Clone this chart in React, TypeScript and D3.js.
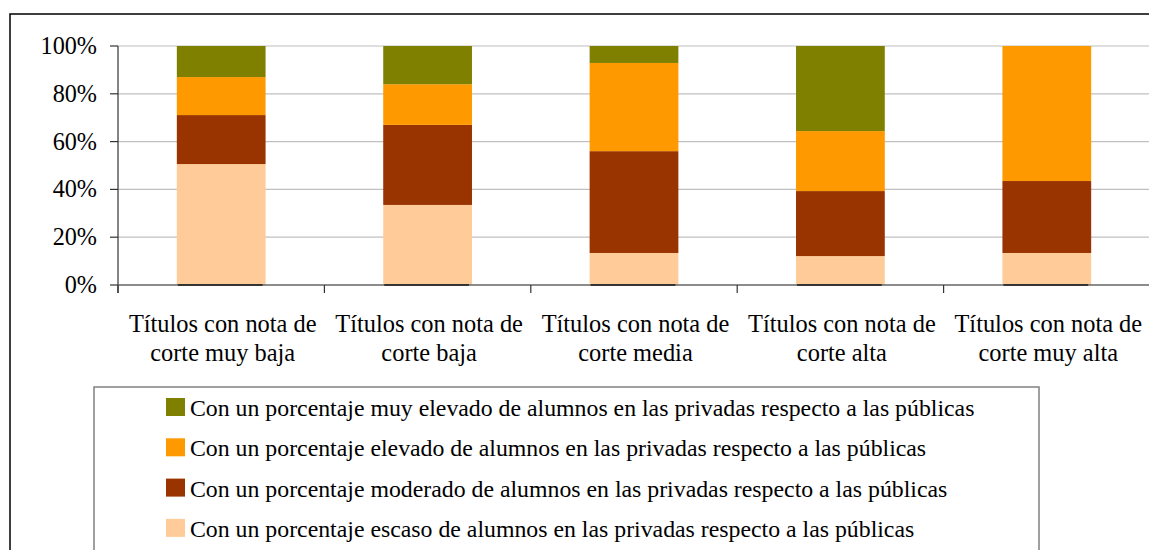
import React from "react";
import * as d3 from "d3";

const categories = [
  ["Títulos con nota de", "corte muy baja"],
  ["Títulos con nota de", "corte baja"],
  ["Títulos con nota de", "corte media"],
  ["Títulos con nota de", "corte alta"],
  ["Títulos con nota de", "corte muy alta"],
];
const escaso = [50.6, 33.5, 13.4, 12.1, 13.4];
const moderado = [20.5, 33.5, 42.6, 27.2, 30.1];
const elevado = [15.9, 17.0, 36.9, 25.1, 56.5];
const muyElevado = [13.0, 16.0, 7.1, 35.6, 0];
const seriesNames = [
  "Con un porcentaje escaso de alumnos en las privadas respecto a las públicas",
  "Con un porcentaje moderado de alumnos en las privadas respecto a las públicas",
  "Con un porcentaje elevado de alumnos en las privadas respecto a las públicas",
  "Con un porcentaje muy elevado de alumnos en las privadas respecto a las públicas",
];
const colors = ["#FFCC99", "#993300", "#FF9900", "#808000"];
const yTicks = [0, 20, 40, 60, 80, 100];

export default function App() {
  const W = 1149, H = 550;
  const left = 118, right = 1150, top = 46, bottom = 285;
  const fs = 24.4;
  const ts = { fontFamily: "Liberation Serif" };
  const x = d3.scaleBand<number>().domain(d3.range(categories.length)).range([left, right]).paddingInner(0.57).paddingOuter(0.285);
  const y = d3.scaleLinear().domain([0, 100]).range([bottom, top]);
  const all = [escaso, moderado, elevado, muyElevado];
  const rows = categories.map((_, i) => ({ i, s0: all[0][i], s1: all[1][i], s2: all[2][i], s3: all[3][i] }));
  const stack = d3.stack<any>().keys(["s0", "s1", "s2", "s3"])(rows);
  const step = (right - left) / categories.length;
  const legendOrder = [3, 2, 1, 0];
  return (
    <svg width={W} height={H} style={{ position: "absolute", left: 0, top: 0, background: "#fff" }}>
      <rect x={10} y={14} width={1160} height={560} fill="none" stroke="#000" strokeWidth={1.5} />
      {yTicks.map((t) => (
        <g key={t}>
          {t > 0 && <line x1={left} x2={right} y1={y(t)} y2={y(t)} stroke="#c0c0c0" strokeWidth={1.2} />}
          <line x1={left - 8} x2={left} y1={y(t)} y2={y(t)} stroke="#333" strokeWidth={1.2} />
          <text x={97} y={y(t) + 8} textAnchor="end" fontSize={24.2} fill="#000" style={ts}>{t}%</text>
        </g>
      ))}
      {stack.map((layer, si) => (
        <g key={si} fill={colors[si]}>
          {layer.map((d, i) => (
            <rect key={i} x={x(i)} width={x.bandwidth()} y={y(d[1])} height={Math.max(0, y(d[0]) - y(d[1]))} />
          ))}
        </g>
      ))}
      <line x1={left} x2={left} y1={top} y2={bottom + 8} stroke="#333" strokeWidth={1.2} />
      <line x1={left} x2={right} y1={bottom} y2={bottom} stroke="#666" strokeWidth={1.4} />
      {categories.map((_, i) => (
        <line key={i} x1={(x(i) as number) + 1} x2={(x(i) as number) + x.bandwidth() - 3} y1={bottom} y2={bottom} stroke="#1a1a1a" strokeWidth={1.6} />
      ))}
      {d3.range(categories.length + 1).map((k) => (
        <line key={k} x1={left + k * step} x2={left + k * step} y1={bottom} y2={bottom + 8} stroke="#333" strokeWidth={1.2} />
      ))}
      {categories.map((c, i) => (
        <text key={i} textAnchor="middle" fontSize={fs} fill="#000" style={ts}>
          {c.map((line, li) => (
            <tspan key={li} x={left + (i + 0.5) * step + 1.5} y={332 + li * 29}>{line}</tspan>
          ))}
        </text>
      ))}
      <rect x={94} y={387} width={945} height={200} fill="#fff" stroke="#808080" strokeWidth={1.5} />
      {legendOrder.map((si, r) => (
        <g key={si}>
          <rect x={166} y={398 + r * 40.3} width={19} height={18} fill={colors[si]} />
          <text x={190} y={416 + r * 40.3} fontSize={23.8} fill="#000" style={ts}>{seriesNames[si]}</text>
        </g>
      ))}
    </svg>
  );
}
